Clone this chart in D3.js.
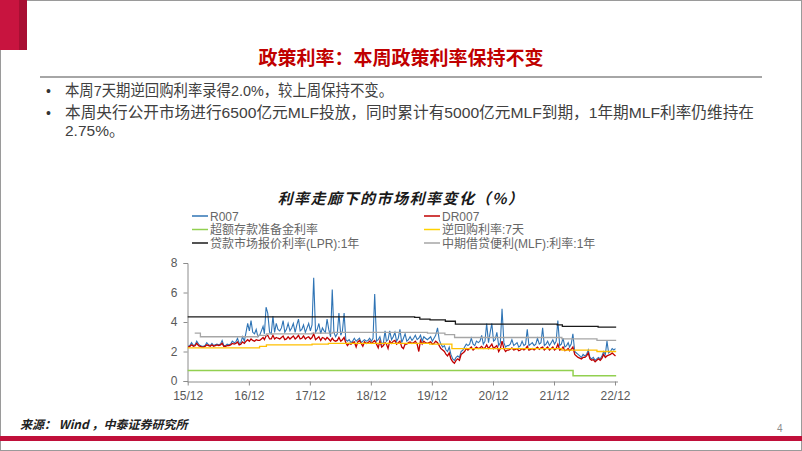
<!DOCTYPE html>
<html>
<head>
<meta charset="utf-8">
<script src="https://cdn.jsdelivr.net/npm/d3@7"></script>
<style>
  body { margin: 0; background: #fff; }
  svg { display: block; font-family: "Liberation Sans", Arial, "Noto Sans CJK SC", sans-serif; }
  .axis path, .axis line { stroke: #8c8c8c; }
  .axis text { fill: #595959; font-size: 12px; font-family: "Liberation Sans", Arial, sans-serif; }
</style>
</head>
<body>
<svg width="802" height="451"></svg>
<script>
// ---- data ----
// R007 / DR007 sampled 3 times a month (4th, 14th, 24th), Dec 2015 .. Dec 2022
var r007 = [
  2.35,2.40,2.60,
  // 2016
  2.40,2.45,2.70, 2.50,2.40,2.35, 2.35,2.40,2.60, 2.45,2.40,2.55, 2.40,2.45,2.50, 2.45,2.50,2.75,
  2.40,2.40,2.50, 2.45,2.50,2.70, 2.60,2.65,2.90, 2.55,2.60,3.00, 2.70,3.30,3.90, 3.40,4.10,3.30,
  // 2017
  3.20,3.50,3.00, 3.10,3.40,3.70, 3.20,5.00,4.60, 3.30,3.20,4.40, 3.30,3.90,3.50, 3.40,3.60,4.10,
  3.30,3.50,3.90, 3.40,3.60,3.90, 3.30,3.80,4.20, 3.40,3.50,3.80, 3.30,3.60,3.90, 3.40,3.80,7.00,
  // 2018
  3.30,3.50,3.90, 3.20,3.60,3.40, 3.30,4.20,3.50, 3.00,6.20,3.30, 3.00,3.20,4.60, 3.10,3.40,4.60,
  2.80,2.70,2.80, 2.60,2.70,2.90, 2.70,2.80,2.90, 2.60,2.70,2.80, 2.70,2.75,2.90, 2.70,2.90,5.90,
  // 2019
  2.70,2.80,3.00, 2.50,2.60,3.40, 2.70,2.80,3.40, 2.80,3.00,3.30, 2.70,2.90,3.50, 2.60,2.90,3.20,
  2.70,2.80,3.00, 2.75,2.90,3.10, 2.80,2.90,3.10, 2.70,3.00,2.90, 2.80,2.90,3.00, 2.70,2.90,3.10,
  // 2020
  3.60,2.80,2.50, 2.30,2.40,2.10, 2.00,2.30,1.80, 1.50,1.40,1.60, 1.70,1.60,2.00, 2.10,2.30,2.50,
  2.40,2.50,2.90, 2.50,2.40,2.70, 2.60,2.70,3.10, 2.50,2.70,3.90, 2.60,3.30,3.90, 2.70,2.80,3.30,
  // 2021
  2.40,2.60,4.90, 2.60,2.30,2.40, 2.40,2.50,2.80, 2.40,2.50,2.60, 2.30,2.40,2.70, 2.40,2.50,3.50,
  2.40,2.50,2.60, 2.40,2.50,2.90, 2.50,2.60,3.60, 2.40,2.50,2.70, 2.40,2.60,2.80, 2.50,2.70,4.10,
  // 2022
  2.40,2.50,2.90, 2.30,2.40,2.60, 2.30,2.50,3.20, 2.00,1.90,1.80, 1.70,1.60,1.80, 1.70,1.80,2.10,
  1.60,1.50,1.60, 1.40,1.50,1.60, 1.50,1.70,2.00, 1.80,2.70,1.90, 2.00,2.20,2.10,
  2.20
];
var dr007 = [
  2.30,2.35,2.45,
  // 2016
  2.35,2.40,2.55, 2.40,2.35,2.30, 2.30,2.35,2.45, 2.40,2.35,2.45, 2.35,2.40,2.45, 2.40,2.45,2.55,
  2.35,2.35,2.40, 2.40,2.45,2.55, 2.50,2.55,2.65, 2.45,2.50,2.65, 2.55,2.70,2.80, 2.70,2.85,2.75,
  // 2017
  2.70,2.80,2.75, 2.75,2.85,2.95, 2.80,3.05,3.10, 2.85,2.85,3.10, 2.85,2.95,2.90, 2.85,2.95,3.05,
  2.80,2.85,3.00, 2.85,2.95,3.05, 2.85,2.95,3.10, 2.85,2.90,3.05, 2.85,2.95,3.00, 2.85,2.95,3.20,
  // 2018
  2.80,2.90,3.00, 2.75,2.95,2.90, 2.80,2.95,2.85, 2.70,2.90,2.75, 2.70,2.75,2.95, 2.70,2.80,2.95,
  2.60,2.40,2.55, 2.50,2.60,2.65, 2.30,2.65,2.75, 2.55,2.35,2.65, 2.55,2.60,2.70, 2.55,2.65,2.75,
  // 2019
  2.50,2.25,2.70, 2.30,2.40,2.60, 2.50,2.20,2.70, 2.55,2.70,2.75, 2.50,2.60,2.70, 2.30,2.20,2.50,
  2.50,2.60,2.65, 2.55,2.60,2.70, 2.50,2.00,2.75, 2.50,2.70,2.60, 2.55,2.60,2.65, 2.50,2.55,2.70,
  // 2020
  2.60,2.40,2.20, 2.10,2.00,1.80, 1.70,1.90,1.50, 1.30,1.20,1.40, 1.50,1.40,1.80, 1.90,2.00,2.20,
  2.10,2.20,2.30, 2.10,2.20,2.30, 2.20,2.25,2.35, 2.20,2.25,2.45, 2.20,2.35,2.50, 2.20,2.30,2.40,
  // 2021
  2.00,2.20,2.70, 2.20,2.00,2.10, 2.10,2.15,2.25, 2.10,2.15,2.20, 2.05,2.10,2.20, 2.10,2.20,2.35,
  2.10,2.15,2.20, 2.10,2.20,2.30, 2.15,2.25,2.30, 2.10,2.20,2.30, 2.10,2.20,2.30, 2.10,2.20,2.50,
  // 2022
  2.10,2.15,2.30, 2.05,2.10,2.20, 2.05,2.15,2.30, 1.80,1.70,1.60, 1.55,1.50,1.60, 1.60,1.70,1.90,
  1.50,1.40,1.45, 1.30,1.40,1.50, 1.40,1.55,1.80, 1.60,1.70,1.75, 1.80,1.90,1.80,
  1.70
];

// policy rates: step series (date of change, new level)
var excessDates = ["2015-12-01", "2022-03-25"];
var excessValues = [0.72, 0.35];
var repoDates = ["2015-12-01", "2017-02-03", "2017-03-16", "2017-12-14", "2018-03-22", "2019-11-18", "2020-03-30", "2022-01-17", "2022-08-15"];
var repoValues = [2.25, 2.35, 2.45, 2.50, 2.55, 2.50, 2.20, 2.10, 2.00];
var lprDates = ["2015-12-01", "2019-08-20", "2019-09-20", "2019-11-20", "2020-02-20", "2020-04-20", "2021-12-20", "2022-01-20", "2022-08-22"];
var lprValues = [4.35, 4.31, 4.20, 4.15, 4.05, 3.85, 3.80, 3.70, 3.65];
var mlfDates = ["2016-01-12", "2016-02-15", "2017-01-24", "2017-03-16", "2017-12-14", "2018-04-17", "2019-11-05", "2020-02-17", "2020-04-15", "2022-01-17", "2022-08-15"];
var mlfValues = [3.25, 3.00, 3.10, 3.20, 3.25, 3.30, 3.25, 3.15, 2.95, 2.85, 2.75];
var endDate = "2022-12-08";

var yTicks = [0, 2, 4, 6, 8];
var xTicks = ["2015-12-01", "2016-12-01", "2017-12-01", "2018-12-01", "2019-12-01", "2020-12-01", "2021-12-01", "2022-12-01"];

var bullets = [
  ["本周7天期逆回购利率录得2.0%，较上周保持不变。"],
  ["本周央行公开市场进行6500亿元MLF投放，同时累计有5000亿元MLF到期，1年期MLF利率仍维持在", "2.75%。"]
];
var bulletWidths = [[328], [689, 0]];

var legendItems = [
  { name: "R007", color: "#2f74b5" },
  { name: "DR007", color: "#c00000" },
  { name: "超额存款准备金利率", color: "#92d050" },
  { name: "逆回购利率:7天", color: "#ffd200" },
  { name: "贷款市场报价利率(LPR):1年", color: "#1a1a1a" },
  { name: "中期借贷便利(MLF):利率:1年", color: "#a6a6a6" }
];

// ---- page frame ----
var parse = d3.timeParse("%Y-%m-%d");
var svg = d3.select("svg");

svg.append("rect").attr("x", 0.5).attr("y", 0.5).attr("width", 801).attr("height", 450)
  .attr("fill", "none").attr("stroke", "#9a9a9a");
svg.append("rect").attr("x", 0).attr("y", 0).attr("width", 19).attr("height", 50).attr("fill", "#c8143f");
svg.append("rect").attr("x", 19).attr("y", 0).attr("width", 8).attr("height", 50).attr("fill", "#a80f33");
svg.append("rect").attr("x", 0).attr("y", 436).attr("width", 802).attr("height", 5).attr("fill", "#c0103a");

svg.append("text").attr("x", 401).attr("y", 65).attr("text-anchor", "middle")
  .style("font-family", "'Noto Sans CJK SC', sans-serif").style("font-size", "19px").style("font-weight", "bold")
  .attr("fill", "#c00000").text("政策利率：本周政策利率保持不变");
svg.append("line").attr("x1", 40).attr("x2", 762).attr("y1", 77).attr("y2", 77)
  .attr("stroke", "#a6a6a6").attr("stroke-width", 2);

var by = [96, 118];
bullets.forEach(function(lines, i) {
  svg.append("text").attr("x", 46).attr("y", by[i]).style("font-size", "14px").attr("fill", "#333").text("•");
  lines.forEach(function(t, j) {
    var tx = svg.append("text").attr("x", 65).attr("y", by[i] + j * 18)
      .style("font-family", "'Liberation Sans', 'Noto Sans CJK SC', sans-serif")
      .style("font-size", "15.5px").attr("fill", "#404040").text(t);
    if (bulletWidths[i][j]) tx.attr("textLength", bulletWidths[i][j]).attr("lengthAdjust", "spacingAndGlyphs");
  });
});

svg.append("text").attr("x", 20).attr("y", 429)
  .style("font-family", "'Noto Sans CJK SC', sans-serif").style("font-size", "12px")
  .style("font-style", "italic").style("font-weight", "bold").attr("fill", "#222")
  .text("来源： Wind ，中泰证券研究所");
svg.append("text").attr("x", 777).attr("y", 432).style("font-size", "10px").attr("fill", "#8c8c8c").text("4");

// ---- chart ----
svg.append("text").attr("x", 401).attr("y", 204).attr("text-anchor", "middle")
  .style("font-family", "'Noto Sans CJK SC', sans-serif").style("font-size", "15px")
  .style("font-weight", "bold").style("font-style", "italic").style("letter-spacing", "1.5px")
  .attr("fill", "#1a1a1a").text("利率走廊下的市场利率变化（%）");

var legend = svg.append("g").attr("class", "legend");
legendItems.forEach(function(d, i) {
  var lx = i % 2 === 0 ? 192 : 424;
  var ly = 216 + Math.floor(i / 2) * 13.5;
  legend.append("line").attr("x1", lx).attr("x2", lx + 16).attr("y1", ly).attr("y2", ly)
    .attr("stroke", d.color).attr("stroke-width", 1.5);
  legend.append("text").attr("x", lx + 18).attr("y", ly + 4.5)
    .style("font-family", "'Liberation Sans', 'Noto Sans CJK SC', sans-serif")
    .style("font-size", "12px").attr("fill", "#666").text(d.name);
});

var x = d3.scaleTime().domain([parse("2015-12-01"), parse("2022-12-01")]).range([187.7, 615]);
var y = d3.scaleLinear().domain([0, 8]).range([381, 263]);

var chartG = svg.append("g");

chartG.append("g").attr("class", "y axis").attr("transform", "translate(187.5,0)")
  .call(d3.axisLeft(y).tickValues(yTicks).tickSize(4).tickPadding(6).tickFormat(d3.format("d")));
chartG.append("g").attr("class", "x axis").attr("transform", "translate(0,381.5)")
  .call(d3.axisBottom(x).tickValues(xTicks.map(parse)).tickSize(4).tickPadding(6).tickFormat(d3.timeFormat("%y/%m")));
chartG.selectAll(".x.axis .domain").attr("d", "M187.5,0.5H618");
chartG.selectAll(".axis .domain").attr("stroke", "#8c8c8c");

// sample dates for the market rates
var sampleDates = [];
var start = parse("2015-12-01");
for (var m = 0; sampleDates.length < r007.length; m++) {
  [4, 14, 24].forEach(function(day) {
    if (sampleDates.length < r007.length) {
      var d = d3.timeMonth.offset(start, m);
      d.setDate(day);
      sampleDates.push(d);
    }
  });
}

var line = d3.line().x(function(d) { return x(d[0]); }).y(function(d) { return y(d[1]); });
var stepLine = d3.line().x(function(d) { return x(d[0]); }).y(function(d) { return y(d[1]); }).curve(d3.curveStepAfter);

function steps(dates, values) {
  var pts = dates.map(function(d, i) { return [parse(d), values[i]]; });
  pts.push([parse(endDate), values[values.length - 1]]);
  return pts;
}

var series = [
  { pts: sampleDates.map(function(d, i) { return [d, r007[i]]; }), color: "#2f74b5", gen: line, w: 1.1 },
  { pts: sampleDates.map(function(d, i) { return [d, dr007[i]]; }), color: "#c00000", gen: line, w: 1.3 },
  { pts: steps(excessDates, excessValues), color: "#92d050", gen: stepLine, w: 1.5 },
  { pts: steps(repoDates, repoValues), color: "#ffc000", gen: stepLine, w: 1.3 },
  { pts: steps(lprDates, lprValues), color: "#1a1a1a", gen: stepLine, w: 1.3 },
  { pts: steps(mlfDates, mlfValues), color: "#a6a6a6", gen: stepLine, w: 1.3 }
];

chartG.selectAll(".series")
  .data(series)
  .enter()
  .append("path")
  .attr("class", "series")
  .attr("fill", "none")
  .attr("stroke", function(d) { return d.color; })
  .attr("stroke-width", function(d) { return d.w; })
  .attr("d", function(d) { return d.gen(d.pts); });
</script>
</body>
</html>
